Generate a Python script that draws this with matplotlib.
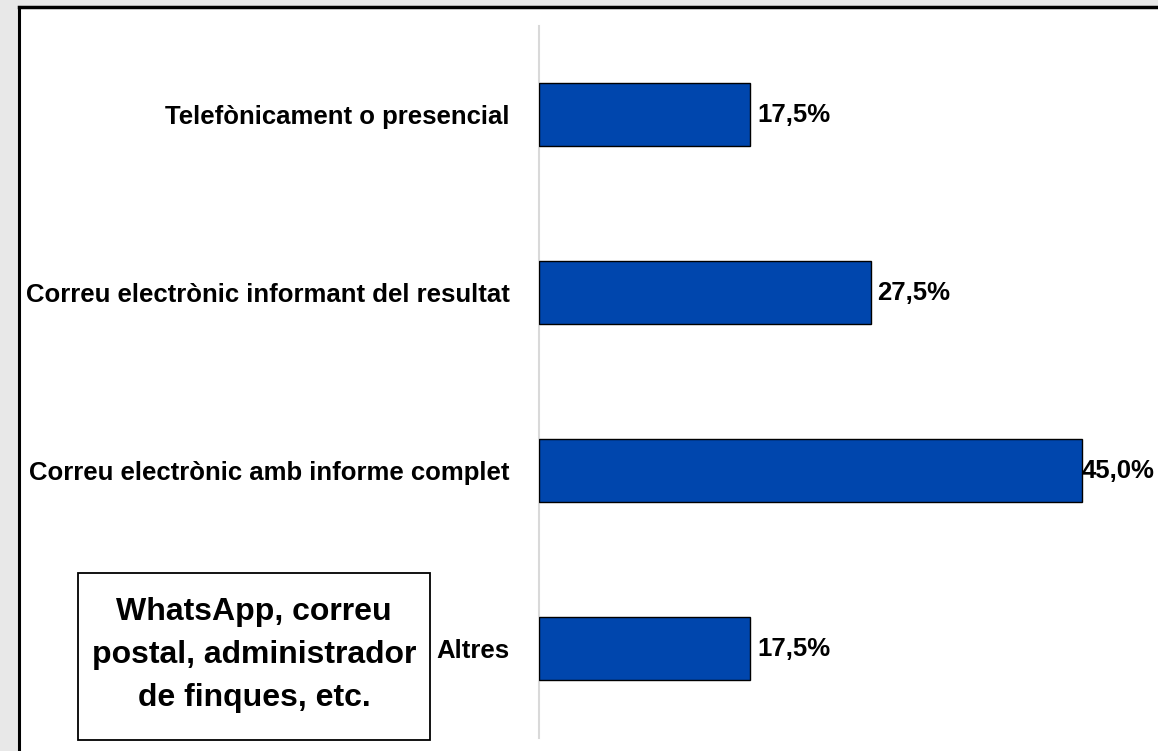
import matplotlib.pyplot as plt
from matplotlib.patches import Rectangle
from matplotlib.lines import Line2D

# data
categories = ['Telefònicament o presencial',
              'Correu electrònic informant del resultat',
              'Correu electrònic amb informe complet',
              'Altres']
values = [17.5, 27.5, 45.0, 17.5]
value_labels = ['17,5%', '27,5%', '45,0%', '17,5%']
note = 'WhatsApp, correu\npostal, administrador\nde finques, etc.'

W, H = 1158, 751
plt.rcParams['font.family'] = ['Liberation Sans', 'DejaVu Sans']
plt.rcParams['font.weight'] = 'bold'

fig = plt.figure(figsize=(W / 100, H / 100), dpi=100)
fig.patch.set_facecolor('#e8e8e8')

def fx(px):
    return px / W

def fy(py):
    return 1 - py / H

# white panel with black top/left border
fig.patches.append(Rectangle((fx(19), 0), 1 - fx(19), fy(7), transform=fig.transFigure,
                             facecolor='white', edgecolor='none', zorder=-5))
fig.lines.append(Line2D([fx(19), fx(19)], [0, fy(7)], transform=fig.transFigure,
                        color='black', lw=2.2, zorder=-4))
fig.lines.append(Line2D([fx(19), 1], [fy(7), fy(7)], transform=fig.transFigure,
                        color='black', lw=2.5, zorder=-4))

ax = fig.add_axes([fx(539), fy(737.5), fx(1142) - fx(539), fy(25.5) - fy(737.5)])
ax.set_facecolor('none')

ypos = list(range(len(categories)))
ax.barh(ypos, values, height=0.354, color='#0046AD', edgecolor='black', linewidth=1.0, zorder=3)
ax.set_xlim(0, 50)
ax.set_ylim(len(categories) - 0.5, -0.5)

ax.set_yticks(ypos)
ax.set_yticklabels(categories, fontsize=18.5, fontweight='bold')
ax.tick_params(axis='y', length=0, pad=21)
ax.set_xticks([])
for s in ['top', 'right', 'bottom']:
    ax.spines[s].set_visible(False)
ax.spines['left'].set_color('#d9d9d9')
ax.spines['left'].set_linewidth(1.5)

texts = []
for y, v, lab in zip(ypos, values, value_labels):
    t = ax.annotate(lab, xy=(v, y), xytext=(5, 0), textcoords='offset points',
                    ha='left', va='center', fontsize=18.5, fontweight='bold')
    texts.append(t)

fig.canvas.draw()
r = fig.canvas.get_renderer()
for t in texts:
    bb = t.get_window_extent(r)
    over = bb.x1 - (W - 3)
    if over > 0:
        ox, oy = t.get_position()
        t.set_position((ox - over * 72 / 100, oy))

# note box
fig.patches.append(Rectangle((fx(78), fy(740)), fx(430) - fx(78), fy(573) - fy(740),
                             transform=fig.transFigure, facecolor='white',
                             edgecolor='black', lw=1.3, zorder=2))
fig.text(fx(254), fy(655), note, ha='center', va='center', multialignment='center',
         fontsize=23, fontweight='bold', linespacing=1.55, zorder=3)

fig.savefig('out.png', dpi=100, facecolor=fig.get_facecolor())
